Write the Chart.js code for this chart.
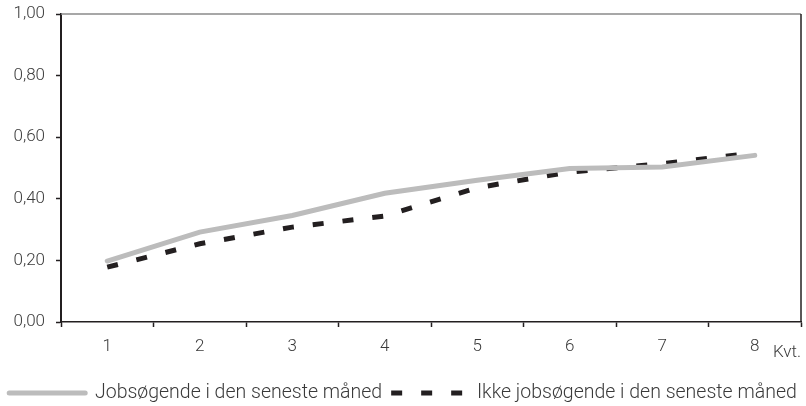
<!DOCTYPE html>
<html>
<head>
<meta charset="utf-8">
<script src="https://cdn.jsdelivr.net/npm/chart.js@4/dist/chart.umd.min.js"></script>
<style>
  html, body { margin: 0; padding: 0; background: #fff; }
  #wrap { width: 806px; height: 406px; }
</style>
</head>
<body>
<div id="wrap"><canvas id="c" width="806" height="406"></canvas></div>
<script>
const categories = ['1', '2', '3', '4', '5', '6', '7', '8'];
const jobsogende = [0.198, 0.292, 0.346, 0.418, 0.460, 0.498, 0.503, 0.541];
const ikkeJobsogende = [0.178, 0.254, 0.308, 0.344, 0.436, 0.487, 0.514, 0.549];
const seriesNames = ['Jobsøgende i den seneste måned', 'Ikke jobsøgende i den seneste måned'];
const yTicks = [0, 0.2, 0.4, 0.6, 0.8, 1.0];
const xTitle = 'Kvt.';

const FONT = { family: 'Roboto', weight: '300', size: 17 };
const LEGEND_FONT = { family: 'Roboto', weight: '300', size: 19.5 };
const LEGEND_PAD = 9;
const TEXT = '#3a3a3a';
const AXIS = '#231f20';

const framePlugin = {
  id: 'frame',
  afterLayout(chart) {
    const lg = chart.legend;
    if (lg) {
      const h = lg.height;
      lg.top = 393 - LEGEND_PAD - LEGEND_FONT.size / 2;
      lg.bottom = lg.top + h;
    }
  },
  afterDraw(chart) {
    const a = chart.chartArea, ctx = chart.ctx;
    ctx.save();
    ctx.lineWidth = 1.5;
    ctx.strokeStyle = '#8a8a8a';
    ctx.beginPath(); ctx.moveTo(a.left, a.top); ctx.lineTo(a.right, a.top); ctx.stroke();
    ctx.strokeStyle = AXIS;
    ctx.beginPath(); ctx.moveTo(a.right, a.top); ctx.lineTo(a.right, a.bottom); ctx.stroke();
    ctx.restore();
  }
};

new Chart(document.getElementById('c'), {
  type: 'line',
  data: {
    labels: categories,
    datasets: [
      {
        label: seriesNames[0],
        data: jobsogende,
        yAxisID: 'y',
        borderColor: '#bcbcbc',
        backgroundColor: '#bcbcbc',
        borderWidth: 5,
        borderCapStyle: 'round',
        pointRadius: 0,
        tension: 0
      },
      {
        label: seriesNames[1],
        data: ikkeJobsogende,
        yAxisID: 'y',
        borderColor: AXIS,
        backgroundColor: AXIS,
        borderWidth: 5,
        borderDash: [11, 19],
        pointRadius: 0,
        tension: 0
      }
    ]
  },
  options: {
    responsive: false,
    animation: false,
    layout: { padding: { top: 14, right: 0, left: 0, bottom: 0 } },
    plugins: {
      tooltip: { enabled: false },
      legend: {
        position: 'bottom',
        align: 'center',
        labels: {
          usePointStyle: true,
          pointStyle: 'line',
          pointStyleWidth: 76,
          boxHeight: 20,
          padding: LEGEND_PAD,
          color: TEXT,
          font: LEGEND_FONT,
          generateLabels(chart) {
            return chart.data.datasets.map((ds, i) => ({
              text: ds.label,
              strokeStyle: ds.borderColor,
              fillStyle: ds.borderColor,
              lineWidth: 5,
              lineDash: ds.borderDash || [],
              lineCap: i === 0 ? 'round' : 'butt',
              pointStyle: 'line',
              datasetIndex: i,
              fontColor: TEXT
            }));
          }
        }
      }
    },
    scales: {
      x: {
        type: 'category',
        offset: true,
        afterFit(s) { s.height = 45.5; },
        grid: {
          display: true,
          offset: true,
          drawOnChartArea: false,
          drawTicks: true,
          tickLength: 5,
          tickWidth: 1.5,
          tickColor: AXIS
        },
        border: { display: true, color: AXIS, width: 1.5 },
        ticks: { color: TEXT, font: FONT, padding: 10, maxRotation: 0 },
        title: {
          display: true,
          text: xTitle,
          align: 'end',
          color: TEXT,
          font: FONT,
          padding: { top: 0, bottom: 5 }
        }
      },
      y: {
        position: 'left',
        min: 0,
        max: 1,
        afterFit(s) { s.width = 61; s.paddingTop = 0; s.paddingBottom = 0; },
        afterBuildTicks(s) { s.ticks = yTicks.map(v => ({ value: v })); },
        grid: {
          display: true,
          drawOnChartArea: false,
          drawTicks: true,
          tickLength: 5,
          tickWidth: 1.5,
          tickColor: AXIS
        },
        border: { display: true, color: AXIS, width: 2 },
        ticks: {
          color: TEXT,
          font: FONT,
          padding: 11,
          callback: v => Number(v).toFixed(2).replace('.', ',')
        }
      },
      yRight: {
        position: 'right',
        min: 0,
        max: 1,
        afterFit(s) { s.width = 5; s.paddingTop = 0; s.paddingBottom = 0; },
        grid: { display: false },
        border: { display: false },
        ticks: { display: false }
      }
    }
  },
  plugins: [framePlugin]
});
</script>
</body>
</html>
